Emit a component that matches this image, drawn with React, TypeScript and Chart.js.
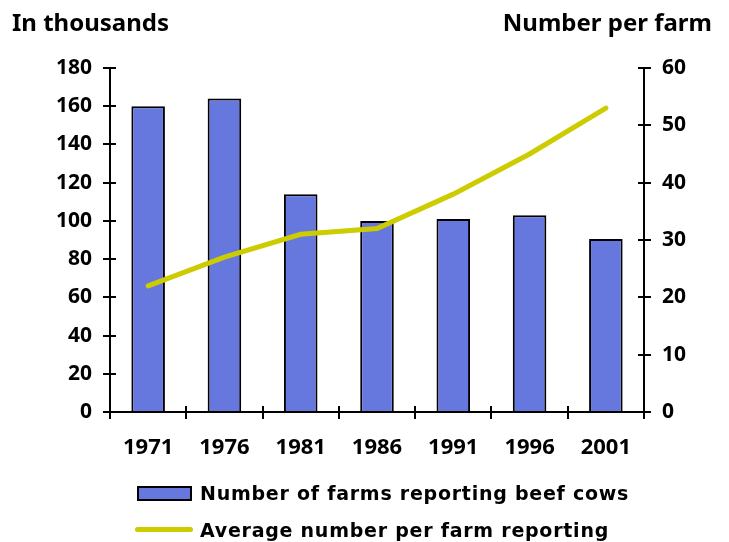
import React, { useEffect, useRef } from "react";
import { Chart, registerables } from "chart.js";

Chart.register(...registerables);

const years = ["1971", "1976", "1981", "1986", "1991", "1996", "2001"];
const farmsReporting = [160, 164, 114, 100, 101, 103, 90.5];
const avgPerFarm = [22, 27, 31, 32, 38, 45, 53];

const barFill = "#6677dd";
const lineColor = "#cccc00";
const fontFamily = "'Noto Sans', 'DejaVu Sans', sans-serif";
const tickFont = { family: fontFamily, size: 21, weight: "bold" as const };

// Extends each axis tick mark into the plot area so the marks cross the axis lines.
const innerTicks = {
  id: "innerTicks",
  afterDatasetsDraw(chart: any) {
    const { ctx, chartArea, scales } = chart;
    const len = 6;
    ctx.save();
    ctx.strokeStyle = "#000";
    ctx.lineWidth = 2;
    ctx.beginPath();
    const y = scales.y;
    y.ticks.forEach((_: any, i: number) => {
      const py = Math.round(y.getPixelForTick(i));
      ctx.moveTo(chartArea.left, py);
      ctx.lineTo(chartArea.left + len, py);
    });
    const y1 = scales.y1;
    y1.ticks.forEach((_: any, i: number) => {
      const py = Math.round(y1.getPixelForTick(i));
      ctx.moveTo(chartArea.right, py);
      ctx.lineTo(chartArea.right - len, py);
    });
    const x = scales.x;
    const n = x.ticks.length;
    for (let i = 0; i <= n; i++) {
      const px = Math.round(x.getPixelForValue(i - 0.5));
      ctx.moveTo(px, chartArea.bottom);
      ctx.lineTo(px, chartArea.bottom - len);
    }
    ctx.stroke();
    ctx.restore();
  },
};

export default function App() {
  const ref = useRef<HTMLCanvasElement>(null);

  useEffect(() => {
    document.body.style.margin = "0";
    const chart = new Chart(ref.current!, {
      type: "bar",
      data: {
        labels: years,
        datasets: [
          {
            type: "line",
            label: "Average number per farm reporting",
            data: avgPerFarm,
            yAxisID: "y1",
            borderColor: lineColor,
            borderWidth: 5,
            borderCapStyle: "round",
            pointRadius: 0,
            tension: 0,
            order: 0,
          },
          {
            type: "bar",
            label: "Number of farms reporting beef cows",
            data: farmsReporting,
            yAxisID: "y",
            backgroundColor: barFill,
            borderColor: "#000",
            borderWidth: 2,
            categoryPercentage: 1,
            barPercentage: 0.44,
            order: 1,
          },
        ],
      },
      options: {
        responsive: false,
        devicePixelRatio: 1,
        animation: false,
        layout: { padding: { top: 68, left: 0, right: 0, bottom: 0 } },
        plugins: { legend: { display: false }, tooltip: { enabled: false } },
        scales: {
          x: {
            offset: true,
            grid: { offset: true, drawOnChartArea: false, drawTicks: true, tickLength: 7, color: "#000", lineWidth: 2 },
            border: { display: true, color: "#000", width: 2 },
            ticks: { color: "#000", font: { ...tickFont, size: 22 }, padding: 16, maxRotation: 0 },
            afterFit(s: any) { s.height = 130; },
          },
          y: {
            position: "left",
            min: 0,
            max: 180,
            ticks: { stepSize: 20, color: "#000", font: tickFont, padding: 11 },
            grid: { drawOnChartArea: false, drawTicks: true, tickLength: 7, color: "#000", lineWidth: 2 },
            border: { display: true, color: "#000", width: 2 },
            afterFit(s: any) { s.width = 110; },
          },
          y1: {
            position: "right",
            min: 0,
            max: 60,
            ticks: { stepSize: 10, color: "#000", font: tickFont, padding: 11 },
            grid: { drawOnChartArea: false, drawTicks: true, tickLength: 7, color: "#000", lineWidth: 2 },
            border: { display: true, color: "#000", width: 2 },
            afterFit(s: any) { s.width = 85; },
          },
        },
      },
      plugins: [innerTicks],
    });
    return () => chart.destroy();
  }, []);

  const titleStyle: React.CSSProperties = {
    position: "absolute",
    top: 6,
    fontFamily,
    fontWeight: "bold",
    fontSize: 24,
    lineHeight: "32px",
    color: "#000",
    whiteSpace: "nowrap",
  };
  const legendText: React.CSSProperties = {
    position: "absolute",
    left: 200,
    fontFamily: "'DejaVu Sans', sans-serif",
    fontWeight: "bold",
    fontSize: 19,
    letterSpacing: "0.75px",
    lineHeight: "24px",
    color: "#000",
    whiteSpace: "nowrap",
  };

  return (
    <div style={{ position: "fixed", left: 0, top: 0, width: 729, height: 542, background: "#fff" }}>
      <canvas ref={ref} width={729} height={542} style={{ position: "absolute", left: 0, top: 0 }} />
      <div style={{ ...titleStyle, left: 12 }}>In thousands</div>
      <div style={{ ...titleStyle, right: 17 }}>Number per farm</div>
      <div style={{ position: "absolute", left: 137, top: 486, width: 51, height: 11, background: barFill, border: "2px solid #000" }} />
      <div style={{ ...legendText, top: 481 }}>Number of farms reporting beef cows</div>
      <div style={{ position: "absolute", left: 135, top: 527, width: 58, height: 5, background: lineColor, borderRadius: 3 }} />
      <div style={{ ...legendText, top: 518 }}>Average number per farm reporting</div>
    </div>
  );
}
